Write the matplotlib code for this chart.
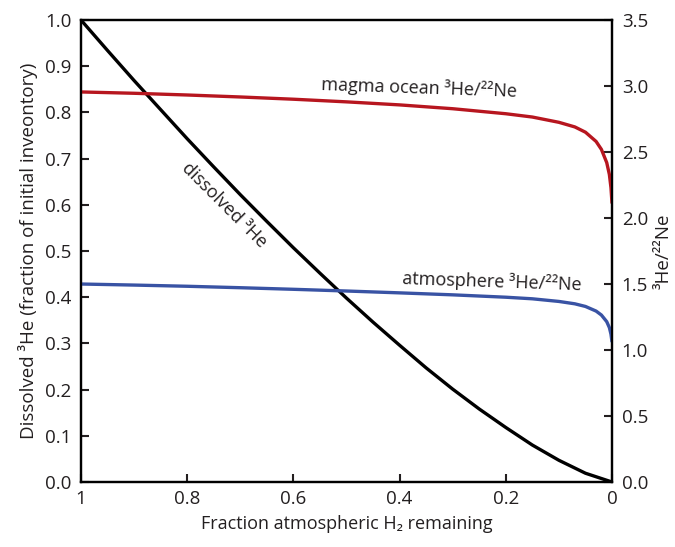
import numpy as np
import matplotlib.pyplot as plt

plt.rcParams['font.family'] = ['Open Sans', 'DejaVu Sans']

# fraction of atmospheric H2 left, with dissolved 3He (fraction of initial inventory)
h2_frac = [1.0, 0.95, 0.9, 0.85, 0.8, 0.75, 0.7, 0.65, 0.6, 0.55, 0.5,
           0.45, 0.4, 0.35, 0.3, 0.25, 0.2, 0.15, 0.1, 0.05, 0.0]
dissolved_he = [1.0, 0.934, 0.869, 0.806, 0.743, 0.682, 0.622, 0.564, 0.507, 0.452, 0.398,
                0.346, 0.296, 0.247, 0.201, 0.158, 0.118, 0.080, 0.047, 0.019, 0.0]

# 3He/22Ne ratios
ratio_x = [1.0, 0.9, 0.8, 0.7, 0.6, 0.5, 0.4, 0.3, 0.2, 0.15, 0.1,
           0.07, 0.05, 0.03, 0.02, 0.01, 0.005, 0.002, 0.0]
magma_ratio = [2.955, 2.945, 2.932, 2.917, 2.900, 2.880, 2.857, 2.828, 2.790, 2.765, 2.725,
               2.690, 2.650, 2.580, 2.520, 2.420, 2.330, 2.230, 2.11]
atmos_ratio = [1.500, 1.492, 1.483, 1.472, 1.460, 1.447, 1.433, 1.418, 1.400, 1.388, 1.368,
               1.350, 1.330, 1.295, 1.265, 1.215, 1.170, 1.120, 1.06]

red = '#B7161F'
blue = '#3953A4'
ink = '#231F20'

fig = plt.figure(figsize=(6.75, 5.47), dpi=100)
ax = fig.add_axes([0.12, 0.1188, 0.7867, 0.8446])
ax2 = ax.twinx()

ax.plot(h2_frac, dissolved_he, color='black', lw=2.4, solid_capstyle='butt', zorder=3)
ax2.plot(ratio_x, magma_ratio, color=red, lw=2.4, solid_capstyle='butt')
ax2.plot(ratio_x, atmos_ratio, color=blue, lw=2.4, solid_capstyle='butt')

ax.set_xlim(1, 0)
ax.set_ylim(0, 1)
ax2.set_ylim(0, 3.5)

ax.set_xticks([1, 0.8, 0.6, 0.4, 0.2, 0])
ax.set_xticklabels(['1', '0.8', '0.6', '0.4', '0.2', '0'])
ax.set_yticks(np.arange(0, 1.01, 0.1))
ax.set_yticklabels(['%.1f' % v for v in np.arange(0, 1.01, 0.1)])
ax2.set_yticks(np.arange(0, 3.51, 0.5))
ax2.set_yticklabels(['%.1f' % v for v in np.arange(0, 3.51, 0.5)])

for a in (ax, ax2):
    for s in a.spines.values():
        s.set_linewidth(1.6)
    a.tick_params(direction='in', length=6, width=1.5, labelsize=13.5, colors=ink)
ax.tick_params(axis='x', pad=6)
ax.tick_params(axis='y', pad=7)
ax2.tick_params(axis='y', pad=7)

ax.set_xlabel('Fraction atmospheric H\u2082 remaining', fontsize=13, color=ink, labelpad=5)
ax.set_ylabel('Dissolved \u00b3He (fraction of initial inveontory)', fontsize=13.5,
              color=ink, labelpad=5)
ax2.set_ylabel('\u00b3He/\u00b2\u00b2Ne', fontsize=13.5, color=ink, labelpad=5)

ax2.text(0.363, 2.985, 'magma ocean \u00b3He/\u00b2\u00b2Ne', fontsize=13, color=ink,
         ha='center', va='center', rotation=-2)
ax2.text(0.226, 1.515, 'atmosphere \u00b3He/\u00b2\u00b2Ne', fontsize=13, color=ink,
         ha='center', va='center', rotation=-2)
ax.text(0.731, 0.60, 'dissolved \u00b3He', fontsize=13, color=ink,
        ha='center', va='center', rotation=-45)

fig.savefig('out.png', dpi=100)
